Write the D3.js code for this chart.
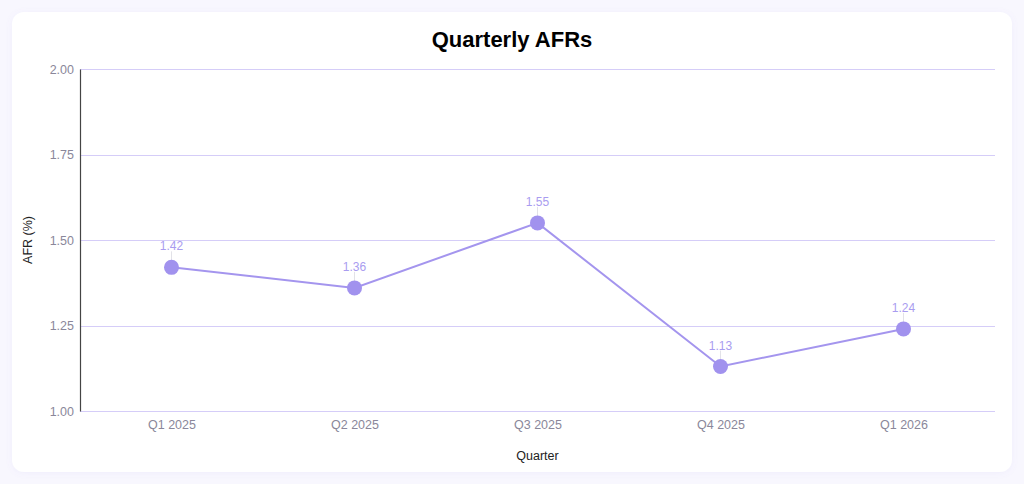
<!DOCTYPE html>
<html>
<head>
<meta charset="utf-8">
<script src="https://cdn.jsdelivr.net/npm/d3@7"></script>
<style>
  html, body { margin: 0; padding: 0; background: #f8f7fe; }
  body { width: 1024px; height: 484px; overflow: hidden; font-family: "Liberation Sans", Arial, sans-serif; }
</style>
</head>
<body>
<svg id="chart" width="1024" height="484"></svg>
<script>
const categories = ["Q1 2025", "Q2 2025", "Q3 2025", "Q4 2025", "Q1 2026"];
const afrValues = [1.42, 1.36, 1.55, 1.13, 1.24];
const yTicks = [1.00, 1.25, 1.50, 1.75, 2.00];
const title = "Quarterly AFRs";
const xTitle = "Quarter";
const yTitle = "AFR (%)";

const svg = d3.select("#chart");

const defs = svg.append("defs");
const f = defs.append("filter").attr("id", "shadow").attr("x", "-5%").attr("y", "-5%").attr("width", "110%").attr("height", "110%");
f.append("feDropShadow").attr("dx", 0).attr("dy", 1).attr("stdDeviation", 3).attr("flood-color", "#8878e0").attr("flood-opacity", 0.08);

svg.append("rect").attr("x", 12).attr("y", 12).attr("width", 1000).attr("height", 460)
  .attr("rx", 12).attr("fill", "#ffffff").attr("filter", "url(#shadow)");

const m = { left: 80, right: 995, top: 69, bottom: 411 };

const x = d3.scalePoint().domain(categories).range([m.left, m.right]).padding(0.5);
const y = d3.scaleLinear().domain([1, 2]).range([m.bottom, m.top]);
const crisp = v => Math.round(v) + 0.5;

// grid lines
svg.append("g").selectAll("line").data(yTicks).join("line")
  .attr("x1", m.left).attr("x2", m.right)
  .attr("y1", d => crisp(y(d))).attr("y2", d => crisp(y(d)))
  .attr("stroke", "#d5cdf8").attr("stroke-width", 1);

// y axis
const yAxis = svg.append("g").attr("transform", `translate(${m.left},0)`)
  .call(d3.axisLeft(y).tickValues(yTicks).tickFormat(d3.format(".2f")).tickSize(0).tickPadding(6));
yAxis.select(".domain").attr("stroke", "#444").attr("stroke-width", 1.2);
yAxis.selectAll("text").attr("fill", "#8a879a").attr("font-size", 12.5).attr("font-family", "Liberation Sans, Arial, sans-serif");

// x axis
const xAxis = svg.append("g").attr("transform", `translate(0,${m.bottom})`)
  .call(d3.axisBottom(x).tickSize(0).tickPadding(9));
xAxis.select(".domain").remove();
xAxis.selectAll("text").attr("fill", "#8a879a").attr("font-size", 12.5).attr("font-family", "Liberation Sans, Arial, sans-serif");

// line
const line = d3.line().x((d, i) => x(categories[i])).y(d => y(d));
svg.append("path").datum(afrValues).attr("d", line)
  .attr("fill", "none").attr("stroke", "#a495ee").attr("stroke-width", 2);

// leader lines
svg.append("g").selectAll("line").data(afrValues).join("line")
  .attr("x1", (d, i) => x(categories[i])).attr("x2", (d, i) => x(categories[i]))
  .attr("y1", d => y(d) - 16).attr("y2", d => y(d) - 7)
  .attr("stroke", "#e2e2e8").attr("stroke-width", 1);

// points
svg.append("g").selectAll("circle").data(afrValues).join("circle")
  .attr("cx", (d, i) => x(categories[i])).attr("cy", d => y(d)).attr("r", 7.5)
  .attr("fill", "#a192ee");

// value labels
svg.append("g").selectAll("text").data(afrValues).join("text")
  .attr("x", (d, i) => x(categories[i])).attr("y", d => y(d) - 17)
  .attr("text-anchor", "middle").attr("font-size", 12).attr("fill", "#a99cf0")
  .text(d => d3.format(".2f")(d));

// titles
svg.append("text").attr("x", 512).attr("y", 47).attr("text-anchor", "middle")
  .attr("font-size", 22).attr("font-weight", "bold").attr("fill", "#000").text(title);

svg.append("text").attr("x", (m.left + m.right) / 2).attr("y", 460).attr("text-anchor", "middle")
  .attr("font-size", 12.5).attr("fill", "#222").text(xTitle);

svg.append("text").attr("transform", `translate(32,${(m.top + m.bottom) / 2}) rotate(-90)`)
  .attr("text-anchor", "middle").attr("font-size", 12.5).attr("fill", "#222").text(yTitle);
</script>
</body>
</html>
